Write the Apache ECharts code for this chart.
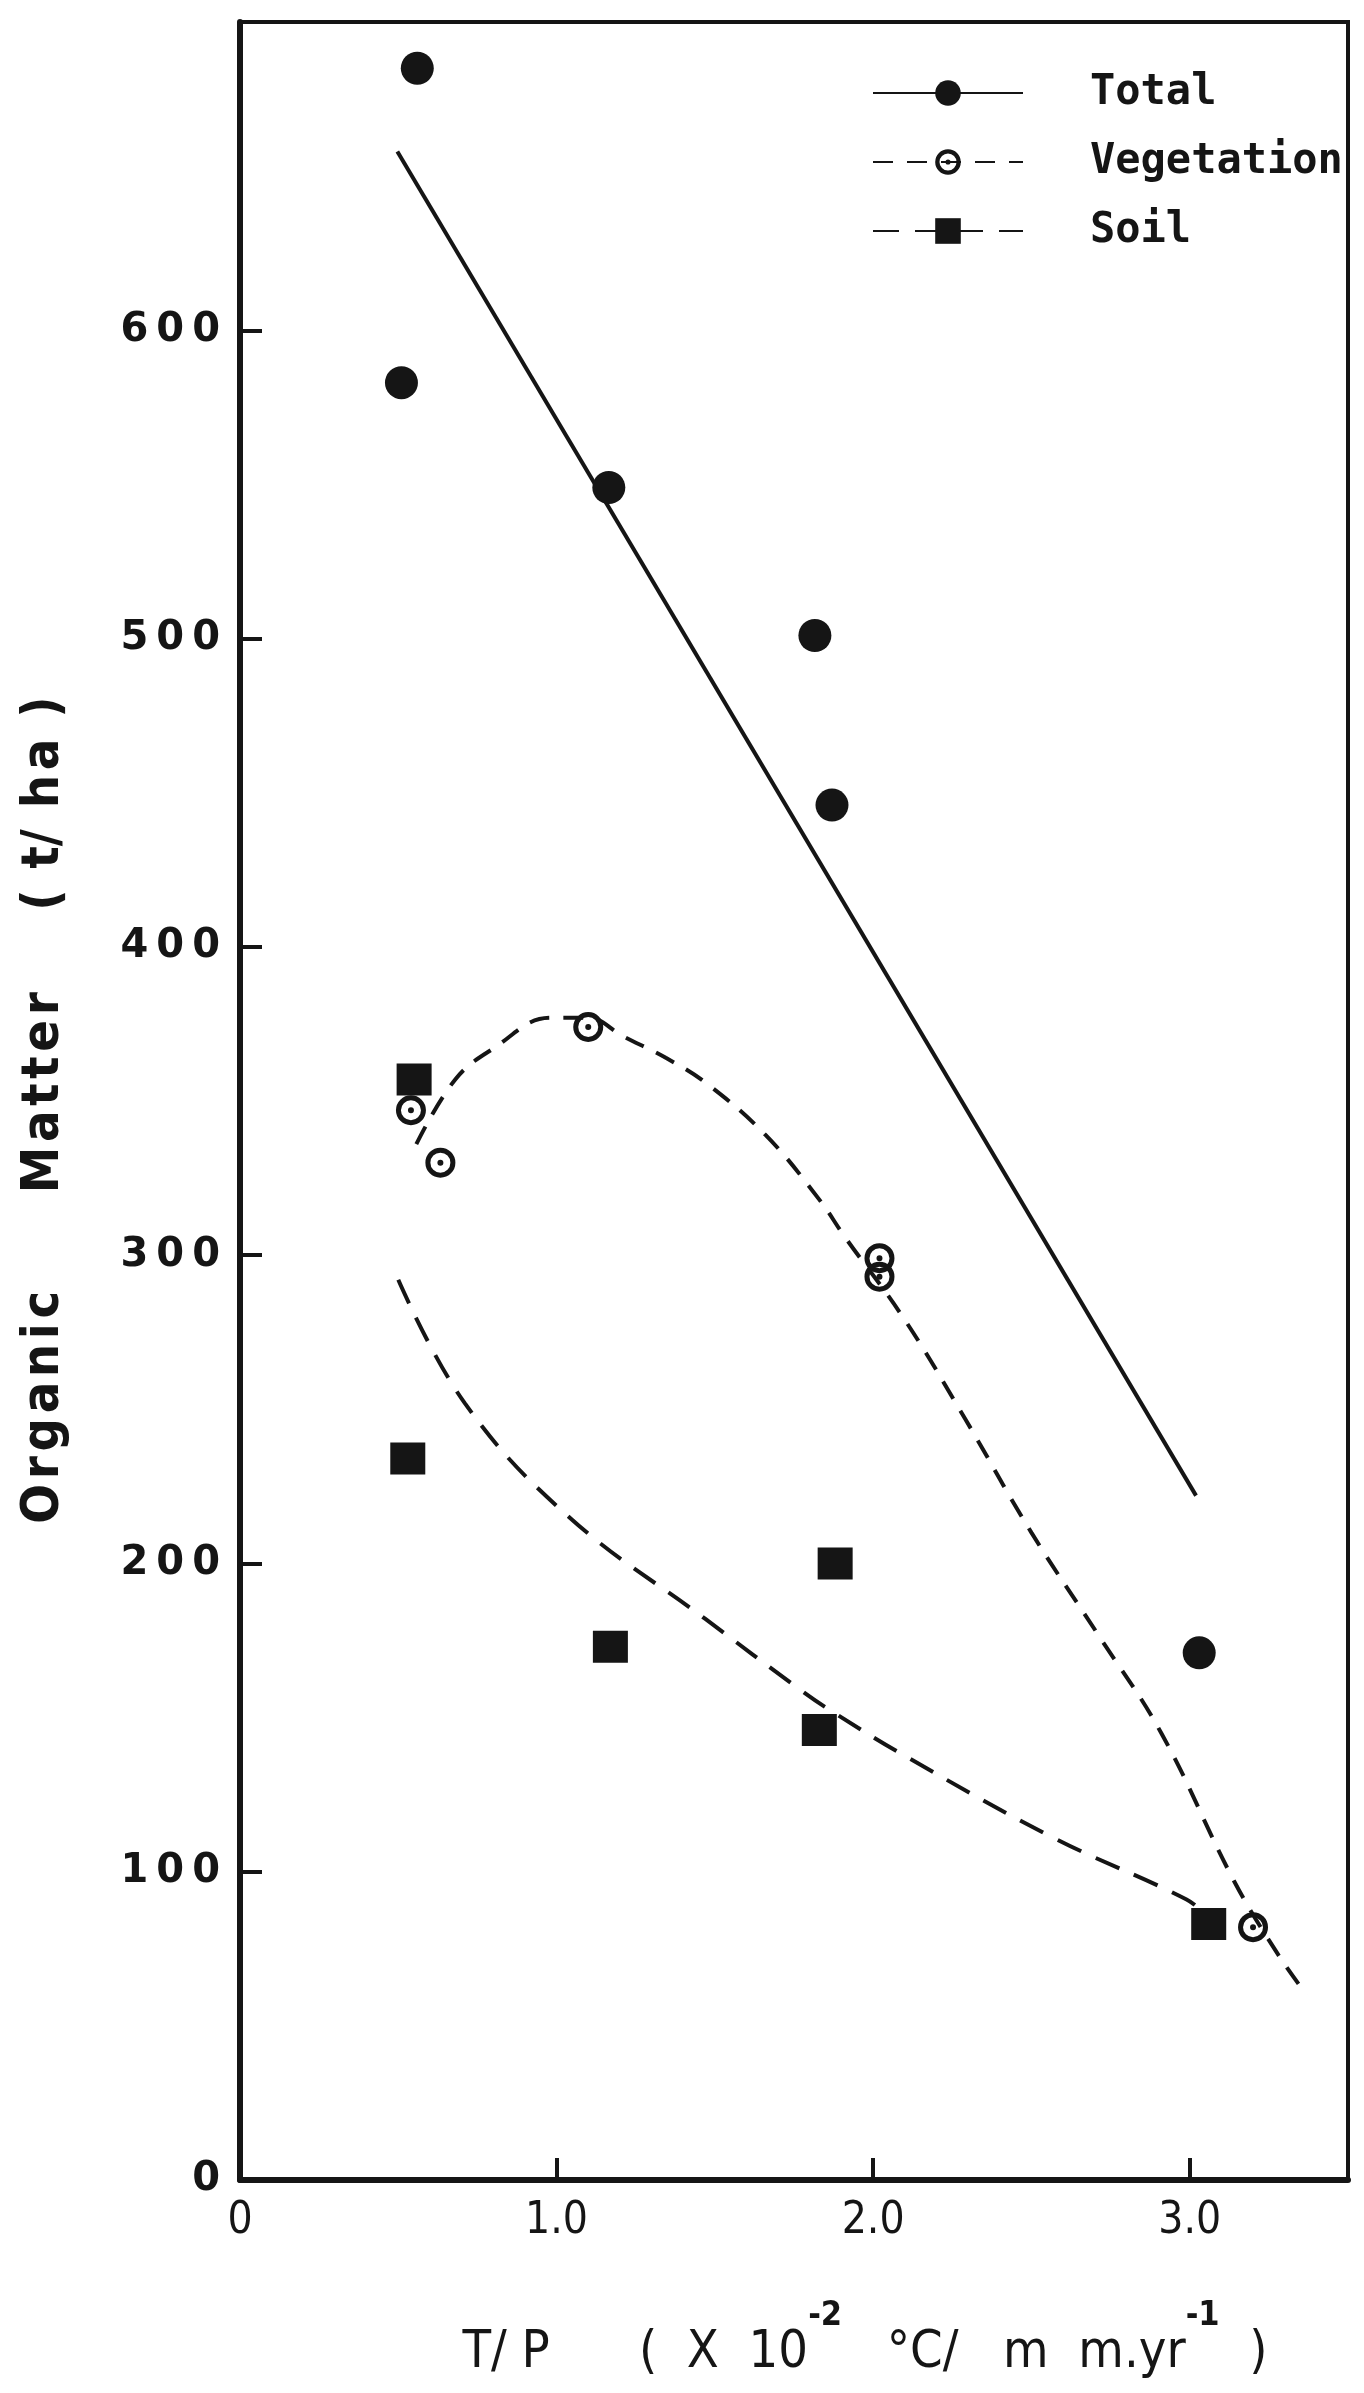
<!DOCTYPE html>
<html>
<head>
<meta charset="utf-8">
<script src="https://cdn.jsdelivr.net/npm/echarts@6/dist/echarts.min.js"></script>
<style>
  html, body { margin: 0; padding: 0; background: #fff; }
  #chart_om { width: 1364px; height: 2393px; }
</style>
</head>
<body>
<div id="chart_om"></div>
<script>
var myChart = echarts.init(document.getElementById('chart_om'));
var ink = '#151515';
var fontsty = 'DejaVu Sans Mono';
var fontcond = 'DejaVu Sans Condensed';

// points
var totalX = [0.56, 0.51, 1.165, 1.816, 1.87, 3.03];
var totalY = [685, 583, 549, 501, 446, 171];
var vegX = [0.54, 0.633, 1.10, 2.02, 2.02, 3.20];
var vegY = [347, 330, 374, 299, 293, 82];
var soilX = [0.55, 0.53, 1.17, 1.88, 1.83, 3.06];
var soilY = [357, 234, 173, 200, 146, 83];

// fitted lines as drawn in the figure
var totalLine = [[0.497, 658], [3.02, 222]];
var vegCurve = [[0.557, 336], [0.68, 357], [0.80, 367], [0.98, 377], [1.10, 377], [1.21, 371], [1.345, 364],
  [1.47, 356], [1.66, 339], [1.83, 318], [1.91, 306], [2.10, 279], [2.29, 247], [2.50, 210], [2.71, 177],
  [2.91, 145], [3.14, 97], [3.28, 73], [3.37, 60]];
var soilCurve = [[0.50, 292], [0.71, 252], [1.04, 215], [1.47, 182], [1.77, 159], [1.87, 152], [2.11, 137],
  [2.57, 111], [2.99, 91], [3.05, 86]];

var yTicks = [0, 100, 200, 300, 400, 500, 600];
var xTicks = ['0', '1.0', '2.0', '3.0'];

function pairs(xs, ys) {
  var out = [];
  for (var i = 0; i < xs.length; i++) out.push([xs[i], ys[i]]);
  return out;
}

// ring with a dot in the middle
var vegSymbol = 'path://M0,-15A15,15 0 1,1 0,15A15,15 0 1,1 0,-15Z M0,-10A10,10 0 1,0 0,10A10,10 0 1,0 0,-10Z M0,-3A3,3 0 1,1 0,3A3,3 0 1,1 0,-3Z';
var hs = '\u200A';

var option = {
  animation: false,
  backgroundColor: '#fff',
  grid: {
    left: 240, right: 16, top: 22, bottom: 213,
    show: true,
    borderColor: ink,
    borderWidth: 4
  },
  legend: {
    data: ['Total', 'Vegetation', 'Soil'],
    orient: 'vertical',
    left: 867,
    top: 67,
    itemWidth: 150,
    itemHeight: 32,
    itemGap: 27,
    textStyle: {
      color: ink,
      fontSize: 42,
      fontWeight: 'bold',
      fontFamily: fontsty,
      padding: [0, 0, 0, 62]
    }
  },
  xAxis: {
    type: 'value',
    min: 0,
    max: 3.5,
    interval: 1,
    splitLine: { show: false },
    axisLine: { lineStyle: { color: ink, width: 6 } },
    axisTick: { inside: true, length: 22, lineStyle: { color: ink, width: 4 } },
    axisLabel: {
      color: ink,
      fontSize: 44,
      fontFamily: fontcond,
      margin: 20,
      formatter: function (v) {
        var i = Math.round(v);
        if (Math.abs(v - i) > 1e-6) return '';
        return xTicks[i] || '';
      }
    }
  },
  yAxis: {
    type: 'value',
    min: 0,
    max: 700,
    interval: 100,
    splitLine: { show: false },
    axisLine: { lineStyle: { color: ink, width: 6 } },
    axisTick: { inside: true, length: 22, lineStyle: { color: ink, width: 4 } },
    axisLabel: {
      color: ink,
      fontSize: 40,
      fontWeight: 'bold',
      fontFamily: 'DejaVu Sans',
      margin: 20,
      formatter: function (v) {
        if (yTicks.indexOf(v) < 0) return '';
        return String(v).split('').join('\u2009');
      }
    }
  },
  graphic: [
    {
      type: 'text',
      x: 44,
      y: 1110,
      rotation: Math.PI / 2,
      style: {
        text: ['O', 'r', 'g', 'a', 'n', 'i', 'c'].join(hs) + '      ' + ['M', 'a', 't', 't', 'e', 'r'].join(hs) +
          '     (' + hs + ' t/ ' + hs + 'h' + hs + 'a ' + hs + ')',
        fill: ink,
        font: 'bold 52px "DejaVu Sans Condensed"',
        align: 'center',
        verticalAlign: 'middle'
      }
    },
    {
      type: 'text',
      x: 865,
      y: 2339,
      style: {
        text: '{a|T/ P      (  X  10}{s|-2}{a|   °C/   m  m.yr}{s|-1}{a|  )}',
        align: 'center',
        verticalAlign: 'middle',
        rich: {
          a: { fill: ink, fontSize: 52, fontFamily: fontcond, lineHeight: 80, verticalAlign: 'bottom' },
          s: { fill: ink, fontSize: 34, fontWeight: 'bold', fontFamily: fontcond, lineHeight: 80, verticalAlign: 'top' }
        }
      }
    }
  ],
  series: [
    {
      name: 'Total',
      type: 'line',
      data: totalLine,
      symbol: 'circle',
      symbolSize: 32,
      showSymbol: false,
      itemStyle: { color: ink },
      lineStyle: { color: ink, width: 4 },
      z: 3
    },
    {
      name: 'Vegetation',
      type: 'line',
      data: vegCurve,
      smooth: 0.4,
      symbol: vegSymbol,
      symbolSize: 28,
      showSymbol: false,
      itemStyle: { color: ink },
      lineStyle: { color: ink, width: 4, type: [20, 14] },
      z: 3
    },
    {
      name: 'Soil',
      type: 'line',
      data: soilCurve,
      smooth: 0.4,
      symbol: 'rect',
      symbolSize: [34, 34],
      showSymbol: false,
      itemStyle: { color: ink },
      lineStyle: { color: ink, width: 4, type: [26, 16] },
      z: 3
    },
    {
      name: 'Total points',
      type: 'scatter',
      data: pairs(totalX, totalY),
      symbol: 'circle',
      symbolSize: 33,
      itemStyle: { color: ink, opacity: 1 },
      z: 4
    },
    {
      name: 'Vegetation points',
      type: 'scatter',
      data: pairs(vegX, vegY),
      symbol: vegSymbol,
      symbolSize: 30,
      itemStyle: { color: ink, opacity: 1 },
      z: 4
    },
    {
      name: 'Soil points',
      type: 'scatter',
      data: pairs(soilX, soilY),
      symbol: 'rect',
      symbolSize: [35, 32],
      itemStyle: { color: ink, opacity: 1 },
      z: 4
    }
  ]
};
myChart.setOption(option);
</script>
</body>
</html>
